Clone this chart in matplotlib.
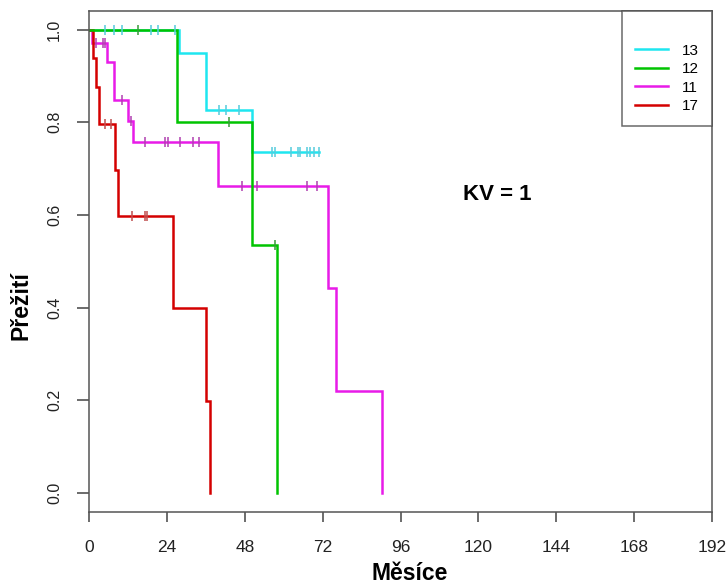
import numpy as np
import matplotlib
matplotlib.use("Agg")
import matplotlib.pyplot as plt
from matplotlib.lines import Line2D

plt.rcParams['font.family'] = ['Liberation Sans', 'DejaVu Sans']

# ---- data ----
groups = ["13", "12", "11", "17"]
colors = {"13": "#1EE6F0", "12": "#00C400", "11": "#E81BE8", "17": "#D40000"}
tick_colors = {"13": "#55CCDD", "12": "#3A9A3A", "11": "#B040B0", "17": "#C05050"}

# event times (months) and survival after each event
ev_13 = [27.7, 36.1, 50.1]
sv_13 = [0.950, 0.827, 0.735]
cens_13 = [5.0, 7.8, 10.2, 19.1, 21.3, 26.4, 40.0, 42.3, 46.2,
           56.4, 57.2, 62.1, 64.3, 65.1, 67.2, 68.2, 69.2, 70.8]
end_13 = 70.8

ev_12 = [27.0, 50.1, 57.8]
sv_12 = [0.800, 0.535, 0.0]
cens_12 = [15.1, 43.1, 57.4]
end_12 = 57.8

ev_11 = [1.0, 5.7, 7.8, 11.9, 13.7, 39.7, 73.8, 76.1, 90.2]
sv_11 = [0.970, 0.930, 0.849, 0.802, 0.757, 0.662, 0.442, 0.221, 0.0]
cens_11 = [2.2, 4.4, 4.9, 10.1, 12.9, 17.3, 23.4, 24.2, 28.0, 31.9, 33.9,
           47.2, 51.8, 67.2, 70.3]
end_11 = 90.2

ev_17 = [1.1, 2.2, 3.0, 8.1, 9.0, 25.9, 36.1, 37.2]
sv_17 = [0.939, 0.875, 0.797, 0.696, 0.598, 0.399, 0.199, 0.0]
cens_17 = [5.0, 6.8, 13.1, 17.3, 17.8]
end_17 = 37.2

data = {
    "13": (ev_13, sv_13, cens_13, end_13),
    "12": (ev_12, sv_12, cens_12, end_12),
    "11": (ev_11, sv_11, cens_11, end_11),
    "17": (ev_17, sv_17, cens_17, end_17),
}

x_ticks = [0, 24, 48, 72, 96, 120, 144, 168, 192]
y_ticks = [0.0, 0.2, 0.4, 0.6, 0.8, 1.0]
y_ticklabels = ["0.0", "0.2", "0.4", "0.6", "0.8", "1.0"]

# ---- figure ----
fig = plt.figure(figsize=(7.28, 5.85), dpi=100)
ax = fig.add_axes([89/728, 1-512/585, (712-89)/728, (512-11)/585])

def surv_at(ev, sv, t):
    s = 1.0
    for e, v in zip(ev, sv):
        if t >= e:
            s = v
    return s

draw_order = ["13", "11", "17", "12"]
for g in draw_order:
    ev, sv, cens, end = data[g]
    xs = [0.0] + list(ev) + ([end] if end > ev[-1] else [])
    ys = [1.0] + list(sv) + ([sv[-1]] if end > ev[-1] else [])
    ax.step(xs, ys, where='post', color=colors[g], lw=1.8, zorder=2,
            solid_joinstyle='miter')
for g in draw_order:
    ev, sv, cens, end = data[g]
    cy = [surv_at(ev, sv, t) for t in cens]
    ax.plot(cens, cy, linestyle='none', marker='|', markersize=7.5,
            mew=1.1, color=tick_colors[g], zorder=3)

ax.set_xlim(0, 192)
ax.set_ylim(-0.041, 1.04)
ax.set_xticks(x_ticks)
ax.set_xticklabels([str(t) for t in x_ticks], fontsize=12.5, color="#222222")
ax.set_yticks(y_ticks)
ax.set_yticklabels(y_ticklabels, fontsize=11.5, rotation=90, va='center',
                   color="#222222")
ax.tick_params(axis='x', length=7.2, width=1.1, color="#444444", pad=13)
ax.tick_params(axis='y', length=8.5, width=1.1, color="#444444", pad=11)
for sp in ax.spines.values():
    sp.set_color("#555555")
    sp.set_linewidth(1.1)

fig.text(410/728, 1-574/585, "Měsíce", fontsize=16.5, fontweight='bold',
         ha='center', va='center')
fig.text(21/728, 1-306/585, "Přežití", fontsize=16.5, fontweight='bold',
         ha='center', va='center', rotation=90)
ax.text(0.655, 0.634, "KV = 1", transform=ax.transAxes, fontsize=16,
        fontweight='bold', ha='center', va='center')

handles = [Line2D([], [], color=colors[g], lw=1.8) for g in groups]
leg = ax.legend(handles, groups, loc='upper right', bbox_to_anchor=(1, 1),
                borderaxespad=0, fontsize=11, frameon=True, fancybox=False,
                handlelength=2.2, handletextpad=0.9, labelspacing=0.3,
                borderpad=0.85, title=" ", title_fontsize=12)
leg.get_frame().set_edgecolor("#444444")
leg.get_frame().set_linewidth(1.1)

fig.savefig("out.png", dpi=100)
